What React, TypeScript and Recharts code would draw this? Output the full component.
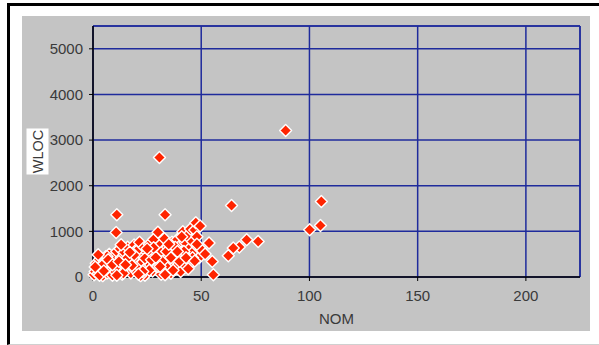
import {
  CartesianGrid,
  ReferenceLine,
  Scatter,
  ScatterChart,
  XAxis,
  YAxis,
} from 'recharts';

// NOM vs WLOC, one point per module
const nom: number[] = [
  0.5, 1, 1.5, 2, 2.5, 3, 3.5, 4, 4.5, 5, 5.5, 6, 6.5, 7, 7.5, 8, 8.5, 9, 9.5, 10,
  10.5, 11, 11.5, 12, 12.5, 13, 13.5, 14, 14.5, 15, 15.5, 16, 16.5, 17, 17.5, 18, 18.5, 19, 19.5, 20,
  20.5, 21, 21.5, 22, 22.5, 23, 23.5, 24, 24.5, 25, 25.5, 26, 26.5, 27, 27.5, 28, 28.5, 29, 29.5, 30,
  30.5, 31, 31.5, 32, 32.5, 33, 33.5, 34, 34.5, 35,
  35.5, 36, 36.5, 37, 37.5, 38, 38.5, 39, 39.5, 40, 40.5, 41, 41.5, 42, 42.5, 43, 43.5, 44, 44.5, 45,
  45.5, 46, 46.5, 47, 47.5, 48, 48.5, 49, 49.5, 50,
  30.7, 89, 11, 10.7, 33.3, 64, 76.3, 71, 67.6, 64.8, 62.5, 55.6, 55.1, 53.6, 51.8,
  105.5, 105.1, 100.1, 33.3, 24, 6.5, 4.1, 2.4, 13,
  1, 3, 5, 7, 9, 12, 14, 16, 18, 20, 22, 24, 26, 28, 30, 32, 34, 36, 38, 40,
  42, 44, 46, 48, 11, 15, 19, 23, 27, 31, 35, 39, 43, 47, 17, 21, 25, 29, 37, 41,
];
const wloc: number[] = [
  50, 120, 300, 200, 80, 380, 150, 250, 30, 320, 180, 450, 90, 280, 500, 150, 380, 40, 230, 470,
  110, 560, 320, 200, 620, 420, 60, 270, 540, 160, 380, 650, 230, 470, 90, 580, 320, 700, 150, 420,
  620, 250, 760, 50, 480, 330, 640, 180, 560, 90, 400, 720, 270, 500, 130, 820, 360, 620, 220, 980,
  450, 700, 60, 560, 300, 840, 150, 420, 650, 250,
  520, 80, 760, 340, 600, 180, 460, 820, 280, 680, 120, 540, 990, 380, 760, 230, 900, 470, 620, 1050,
  330, 780, 560, 1030, 1190, 880, 650, 420, 1120, 600,
  2620, 3210, 1364, 977, 1364, 1568, 780, 817, 657, 635, 466, 50, 342, 745, 503,
  1656, 1130, 1036, 50, 40, 451, 247, 488, 707,
  220, 40, 130, 380, 270, 340, 80, 420, 250, 560, 30, 410, 150, 640, 230, 340, 560, 420, 650, 340,
  560, 180, 420, 720, 40, 270, 480, 120, 380, 230, 720, 560, 420, 350, 540, 60, 620, 430, 150, 880,
];

const xTicks = [0, 50, 100, 150, 200];
const yTicks = [0, 1000, 2000, 3000, 4000, 5000];
const xMax = 225;
const yMax = 5500;

const points = nom.map((n, i) => ({ nom: n, wloc: wloc[i] }));

const GRID = '#1f2b9c';
const TICK = { fill: '#3a3a3a', fontSize: 15, fontFamily: 'Liberation Sans, Arial, sans-serif' };

const Diamond = (props: any) => {
  const { cx, cy } = props;
  const r = 6;
  return (
    <path
      d={`M${cx},${cy - r}L${cx + r},${cy}L${cx},${cy + r}L${cx - r},${cy}Z`}
      fill="#ff2400"
      stroke="#ffffff"
      strokeWidth={1.4}
      strokeLinejoin="round"
    />
  );
};

const WlocLabel = (props: any) => {
  const { viewBox } = props;
  const cx = viewBox.x + 37.5;
  const cy = viewBox.y + viewBox.height / 2;
  return (
    <g transform={`translate(${cx},${cy}) rotate(-90)`}>
      <rect x={-23} y={-11} width={46} height={22} fill="#ffffff" />
      <text
        x={0}
        y={5}
        textAnchor="middle"
        fill="#3a3a3a"
        fontSize={14.5}
        fontFamily="Liberation Sans, Arial, sans-serif"
      >
        WLOC
      </text>
    </g>
  );
};

export default function App() {
  return (
    <div style={{ position: 'absolute', left: 0, top: 0, width: 599, height: 345, background: '#fff', overflow: 'hidden' }}>
      <div
        style={{
          position: 'absolute',
          left: 7,
          top: 3,
          width: 600,
          height: 338,
          borderTop: '3px solid #000',
          borderLeft: '3px solid #000',
          borderBottom: '1px solid #d0d0d0',
        }}
      />
      <div style={{ position: 'absolute', left: 22, top: 16, width: 568, height: 315, background: '#c4c4c4' }} />
      <div style={{ position: 'absolute', left: 0, top: 0 }}>
        <ScatterChart width={599} height={345} margin={{ top: 26, right: 19, left: 0, bottom: 0 }}>
          <CartesianGrid stroke={GRID} strokeWidth={1.5} fill="none" />
          <XAxis
            type="number"
            dataKey="nom"
            domain={[0, xMax]}
            ticks={xTicks}
            height={68}
            tick={TICK}
            tickSize={4}
            tickMargin={9}
            axisLine={{ stroke: '#000', strokeWidth: 1.5 }}
            tickLine={{ stroke: '#000' }}
            label={{ value: 'NOM', position: 'insideBottom', offset: 21, style: TICK }}
          />
          <YAxis
            type="number"
            dataKey="wloc"
            domain={[0, yMax]}
            ticks={yTicks}
            width={93}
            tick={TICK}
            tickSize={4}
            tickMargin={6}
            axisLine={{ stroke: '#000', strokeWidth: 1.5 }}
            tickLine={{ stroke: '#000' }}
            label={{ content: WlocLabel }}
          />
          <ReferenceLine x={xMax} stroke={GRID} strokeWidth={1.5} />
          <ReferenceLine y={yMax} stroke={GRID} strokeWidth={1.5} />
          <Scatter data={points} shape={Diamond} isAnimationActive={false} />
        </ScatterChart>
      </div>
    </div>
  );
}
